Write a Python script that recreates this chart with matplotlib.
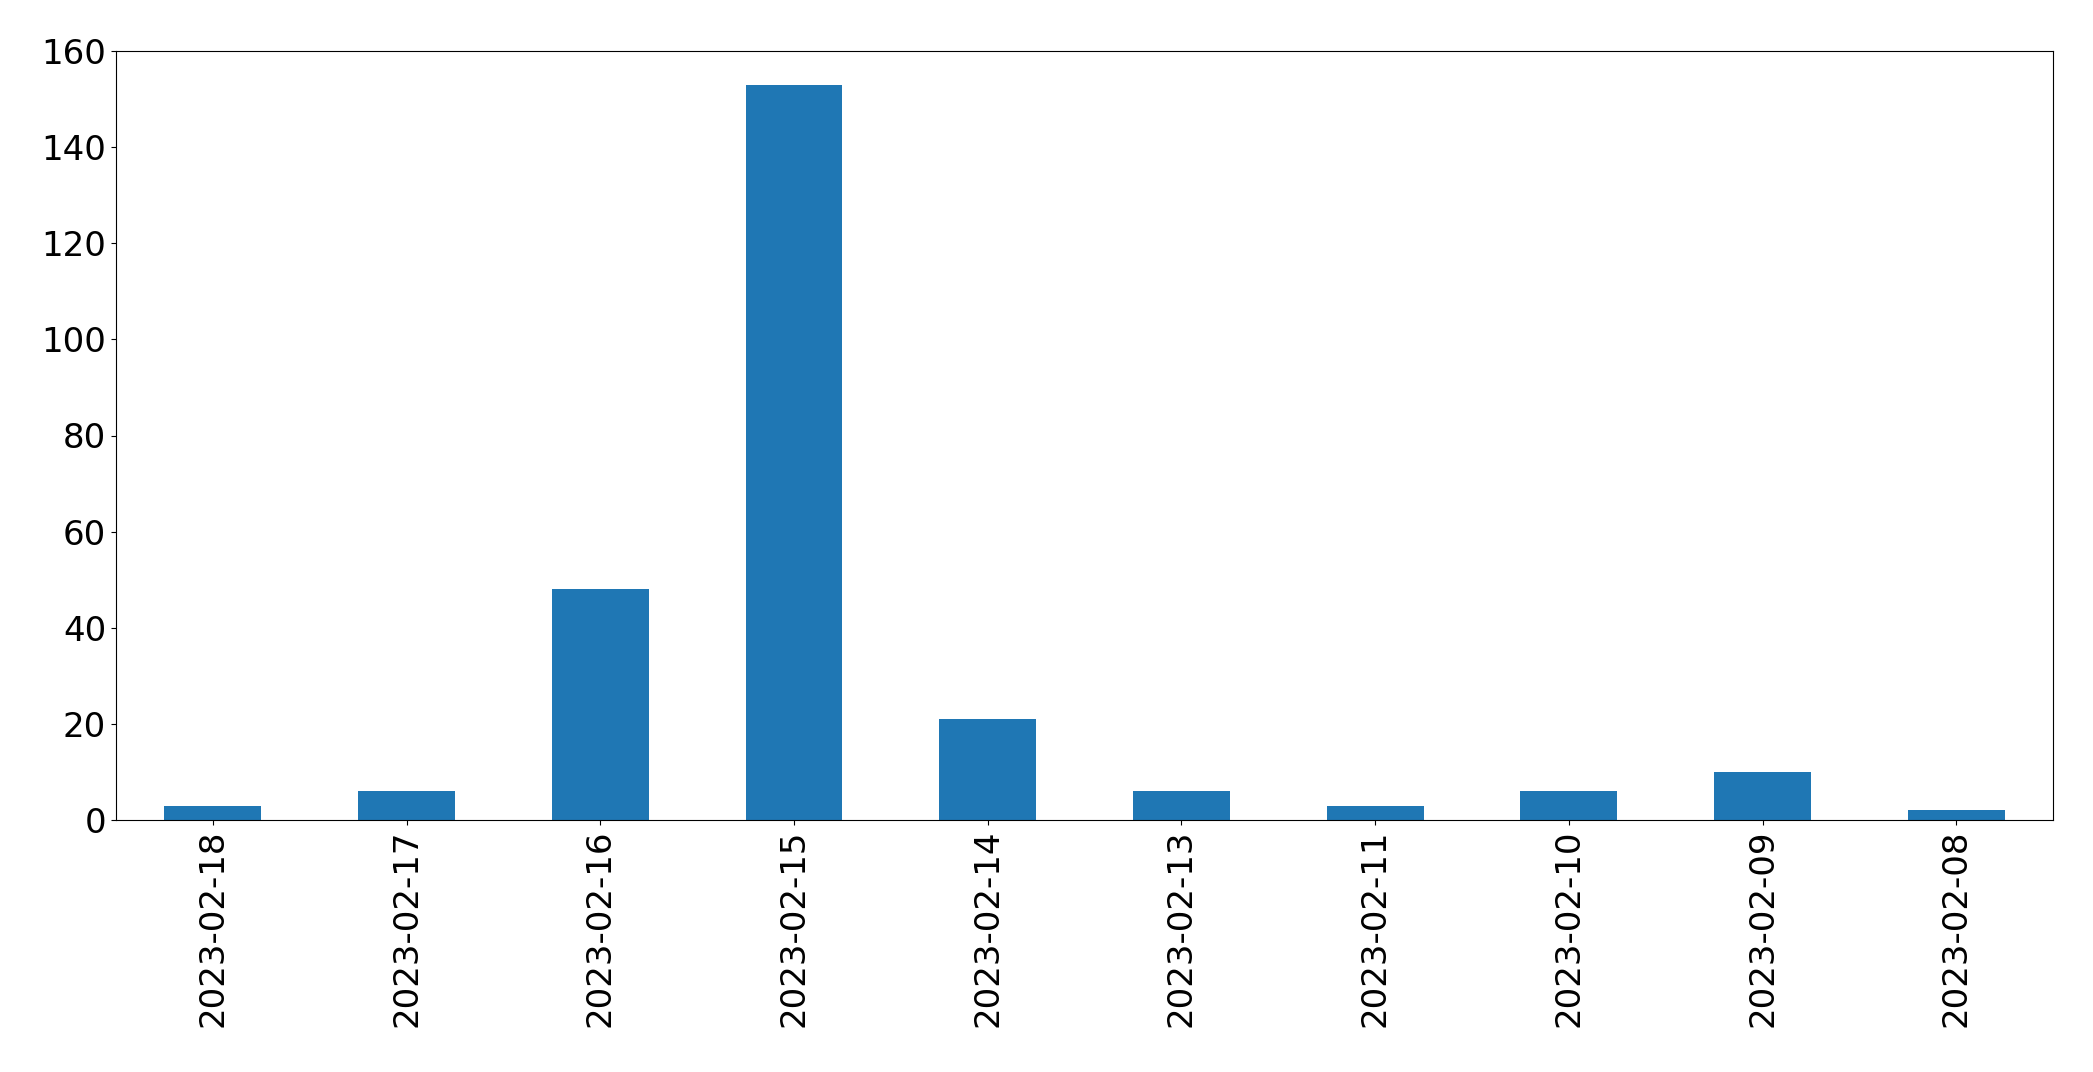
import numpy as np
import matplotlib
matplotlib.use('Agg')
import matplotlib.pyplot as plt

dates = ['2023-02-18', '2023-02-17', '2023-02-16', '2023-02-15', '2023-02-14',
         '2023-02-13', '2023-02-11', '2023-02-10', '2023-02-09', '2023-02-08']
counts = [3, 6, 48, 153, 21, 6, 3, 6, 10, 2]

fig = plt.figure(figsize=(20.93, 10.72), dpi=100)
ax = fig.add_axes([0.0554, 0.235, 0.9256, 0.7175])

x = np.arange(len(dates))
ax.bar(x, counts, width=0.5, color='#1f77b4')
ax.set_xticks(x)
ax.set_xticklabels(dates, rotation=90)
ax.set_xlim(-0.5, len(dates) - 0.5)
ax.set_ylim(0, 160)
ax.tick_params(labelsize=24.5)

plt.savefig('out.png', dpi=100)
